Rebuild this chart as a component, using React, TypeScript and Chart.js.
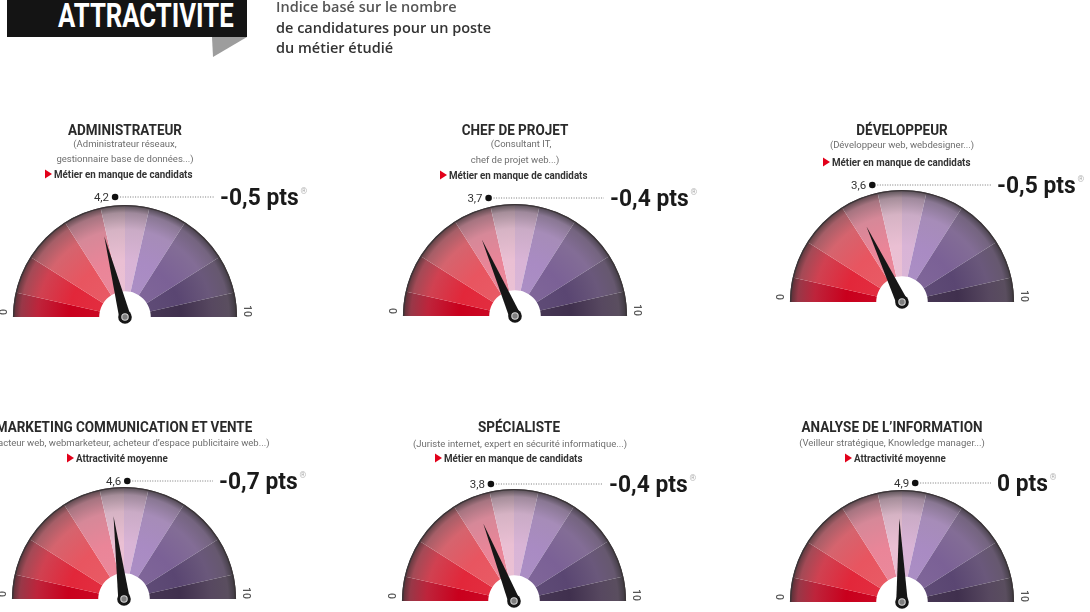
import React, { useEffect, useRef } from "react";
import { Chart, registerables } from "chart.js";

Chart.register(...registerables);

// ---------------- data ----------------
const HEADER_TITLE = "ATTRACTIVITE";
const HEADER_NOTE = ["Indice basé sur le nombre", "de candidatures pour un poste", "du métier étudié"];

const JOB_TITLES = [
  "ADMINISTRATEUR",
  "CHEF DE PROJET",
  "DÉVELOPPEUR",
  "MARKETING COMMUNICATION ET VENTE",
  "SPÉCIALISTE",
  "ANALYSE DE L’INFORMATION",
];
const JOB_EXAMPLES: string[][] = [
  ["(Administrateur réseaux,", "gestionnaire base de données...)"],
  ["(Consultant IT,", "chef de projet web...)"],
  ["(Développeur web, webdesigner...)"],
  ["(Rédacteur web, webmarketeur, acheteur d’espace publicitaire web...)"],
  ["(Juriste internet, expert en sécurité informatique...)"],
  ["(Veilleur stratégique,  Knowledge manager...)"],
];
const JOB_STATUS = [
  "Métier en manque de candidats",
  "Métier en manque de candidats",
  "Métier en manque de candidats",
  "Attractivité moyenne",
  "Métier en manque de candidats",
  "Attractivité moyenne",
];
const ATTRACTIVITY_INDEX = [4.2, 3.7, 3.6, 4.6, 3.8, 4.9];
const INDEX_LABELS = ["4,2", "3,7", "3,6", "4,6", "3,8", "4,9"];
const CHANGE_LABELS = ["-0,5 pts", "-0,4 pts", "-0,5 pts", "-0,7 pts", "-0,4 pts", "0 pts"];
const SCALE_MIN = 0;
const SCALE_MAX = 10;
const SCALE_LABELS = ["0", "10"];
const ZONE_SIZES = [0.7, 1.1, 1.4, 1.1, 0.7, 0.7, 1.1, 1.4, 1.1, 0.7];
const ZONE_LABELS = ["z1", "z2", "z3", "z4", "z5", "z6", "z7", "z8", "z9", "z10"];

// ---------------- styles ----------------
const ZONE_COLORS = [
  "#c9001d",
  "#e2273a",
  "#e85560",
  "#ea8598",
  "#eabfd3",
  "#d9b4d6",
  "#a98bc3",
  "#7b6196",
  "#5a4672",
  "#40304e",
];
const ROBOTO = "Roboto, 'Open Sans', sans-serif";

// ---------------- layout ----------------
const RADIUS = 112;
const PAD = { left: 4, right: 4, top: 4, bottom: 10 };
const LAYOUT = [
  { cx: 125, base: 317, titleY: 130, titleDx: 0, subY: [143, 158], subDx: [0, 0], bulletY: 174, bulletX: 45, valueY: 197 },
  { cx: 515, base: 316, titleY: 130, titleDx: 0, subY: [143, 159], subDx: [6, 0], bulletY: 175, bulletX: 440, valueY: 198 },
  { cx: 902, base: 302, titleY: 130, titleDx: 0, subY: [144], subDx: [0], bulletY: 162, bulletX: 823, valueY: 185 },
  { cx: 124, base: 599, titleY: 427, titleDx: 0, subY: [442], subDx: [0], bulletY: 458, bulletX: 67, valueY: 481 },
  { cx: 514, base: 601, titleY: 427, titleDx: 5, subY: [443], subDx: [6], bulletY: 458, bulletX: 435, valueY: 484 },
  { cx: 902, base: 602, titleY: 427, titleDx: -10, subY: [442], subDx: [-10], bulletY: 458, bulletX: 845, valueY: 483 },
];

function hexToRgb(h: string) {
  const n = parseInt(h.slice(1), 16);
  return [(n >> 16) & 255, (n >> 8) & 255, n & 255];
}
function mix(a: string, b: string, t: number) {
  const A = hexToRgb(a);
  const B = hexToRgb(b);
  const c = A.map((v, i) => Math.round(v + (B[i] - v) * t));
  return `rgb(${c[0]},${c[1]},${c[2]})`;
}

function zoneFill(ctx: any) {
  const chart = ctx.chart;
  const area = chart.chartArea;
  const base = ZONE_COLORS[ctx.dataIndex % ZONE_COLORS.length];
  if (!area) return base;
  const cx = (area.left + area.right) / 2;
  const cy = area.bottom;
  const r = Math.min(area.right - area.left, 2 * (area.bottom - area.top)) / 2;
  const g = chart.ctx.createRadialGradient(cx, cy, 0, cx, cy, r);
  g.addColorStop(0, mix(base, "#ffffff", 0.05));
  g.addColorStop(0.5, base);
  g.addColorStop(0.78, mix(base, "#9b8f96", 0.25));
  g.addColorStop(0.93, mix(base, "#6f666c", 0.55));
  g.addColorStop(1, mix(base, "#3e3a3c", 0.85));
  return g;
}

function Gauge({ index }: { index: number }) {
  const ref = useRef<HTMLCanvasElement>(null);
  const L = LAYOUT[index];
  useEffect(() => {
    const value = ATTRACTIVITY_INDEX[index];
    const needle = {
      id: "needle",
      afterDatasetsDraw(chart: any) {
        const arc: any = chart.getDatasetMeta(0).data[0];
        if (!arc) return;
        const { x, y, outerRadius } = arc;
        const ctx = chart.ctx;
        ctx.save();
        ctx.beginPath();
        ctx.arc(x, y, outerRadius - 0.6, Math.PI, 2 * Math.PI);
        ctx.strokeStyle = "#3b3538";
        ctx.lineWidth = 1.4;
        ctx.stroke();
        const frac = (value - SCALE_MIN) / (SCALE_MAX - SCALE_MIN);
        const a = Math.PI + frac * Math.PI;
        const len = outerRadius * 0.745;
        const tx = x + Math.cos(a) * len;
        const ty = y + Math.sin(a) * len;
        const px = -Math.sin(a);
        const py = Math.cos(a);
        const w = 5.8;
        ctx.beginPath();
        ctx.moveTo(tx, ty);
        ctx.lineTo(x + px * w, y + py * w);
        ctx.lineTo(x - px * w, y - py * w);
        ctx.closePath();
        ctx.fillStyle = "#161616";
        ctx.fill();
        ctx.beginPath();
        ctx.arc(x, y, 6.8, 0, 2 * Math.PI);
        ctx.fill();
        ctx.beginPath();
        ctx.arc(x, y, 3.2, 0, 2 * Math.PI);
        ctx.fillStyle = "#7e7e7e";
        ctx.fill();
        ctx.strokeStyle = "#d2d2d2";
        ctx.lineWidth = 1.1;
        ctx.stroke();
        ctx.restore();
      },
    };
    const chart = new Chart(ref.current as HTMLCanvasElement, {
      type: "doughnut",
      data: {
        labels: ZONE_LABELS,
        datasets: [{ data: ZONE_SIZES, backgroundColor: zoneFill as any, borderWidth: 0 }],
      },
      options: {
        responsive: false,
        animation: false,
        rotation: -90,
        circumference: 180,
        cutout: "23%",
        layout: { padding: PAD },
        events: [],
        plugins: { legend: { display: false }, tooltip: { enabled: false } },
      } as any,
      plugins: [needle],
    });
    return () => chart.destroy();
  }, [index]);
  const w = RADIUS * 2 + PAD.left + PAD.right;
  const h = RADIUS + PAD.top + PAD.bottom;
  return (
    <canvas
      ref={ref}
      width={w}
      height={h}
      style={{ position: "absolute", left: L.cx - RADIUS - PAD.left, top: L.base - RADIUS - PAD.top, width: w, height: h }}
    />
  );
}

function SText(props: {
  x: number; y: number; sx?: number; size: number; weight?: number; fill: string;
  anchor?: string; family?: string; baseline?: string; children: any;
}) {
  const { x, y, sx = 1, size, weight = 400, fill, anchor = "start", family = ROBOTO, baseline = "central", children } = props;
  return (
    <text transform={`translate(${x},${y}) scale(${sx},1)`} textAnchor={anchor} dominantBaseline={baseline}
      fontFamily={family} fontSize={size} fontWeight={weight} fill={fill}>{children}</text>
  );
}

function GaugeText({ index }: { index: number }) {
  const L = LAYOUT[index];
  const v = ATTRACTIVITY_INDEX[index];
  const dotX = L.cx + 33 * (v - 4.5);
  const ptsX = L.cx + 95;
  return (
    <g>
      <SText x={L.cx + L.titleDx} y={L.titleY} anchor="middle" size={15} sx={0.9} weight={700} fill="#2a2a2a">{JOB_TITLES[index]}</SText>
      {JOB_EXAMPLES[index].map((s, k) => (
        <SText key={k} x={L.cx + (L.subDx[k] || 0)} y={L.subY[k]} anchor="middle" size={9.5} sx={1} fill="#6e6e6e">{s}</SText>
      ))}
      <polygon points={`${L.bulletX},${L.bulletY - 4.5} ${L.bulletX + 7},${L.bulletY} ${L.bulletX},${L.bulletY + 4.5}`} fill="#e2001a" />
      <SText x={L.bulletX + 9} y={L.bulletY} size={10} sx={0.98} weight={700} fill="#333">{JOB_STATUS[index]}</SText>
      <SText x={dotX - 6} y={L.valueY} anchor="end" size={11.5} fill="#333">{INDEX_LABELS[index]}</SText>
      <circle cx={dotX} cy={L.valueY} r={3.3} fill="#111" />
      <line x1={dotX + 5} y1={L.valueY} x2={ptsX - 6} y2={L.valueY} stroke="#777" strokeWidth={1} strokeDasharray="1 1.5" />
      <SText x={ptsX} y={L.valueY} size={24} sx={0.95} weight={700} fill="#1a1a1a">
        {CHANGE_LABELS[index]}
        <tspan dx={2} dy={-6} fontSize={9} fontWeight={400} fill="#b5b5b5">®</tspan>
      </SText>
      <text transform={`translate(${L.cx - RADIUS - 11},${L.base - 5}) rotate(90)`} textAnchor="middle"
        dominantBaseline="central" fontFamily={ROBOTO} fontWeight={500} fontSize={10.5} fill="#555">{SCALE_LABELS[0]}</text>
      <text transform={`translate(${L.cx + RADIUS + 10},${L.base - 6}) rotate(90)`} textAnchor="middle"
        dominantBaseline="central" fontFamily={ROBOTO} fontWeight={500} fontSize={10.5} fill="#555">{SCALE_LABELS[1]}</text>
    </g>
  );
}

export default function App() {
  return (
    <div style={{ position: "fixed", left: 0, top: 0, width: 1090, height: 612, overflow: "hidden", background: "#ffffff" }}>
      {LAYOUT.map((_, i) => (
        <Gauge key={i} index={i} />
      ))}
      <svg width={1090} height={612} style={{ position: "absolute", left: 0, top: 0, pointerEvents: "none" }}>
        <rect x={7} y={-6} width={240} height={43} fill="#141414" />
        <polygon points="212,37 247,37 213,57" fill="#9d9d9d" />
        <SText x={58} y={27} baseline="alphabetic" size={33} sx={0.78} weight={700} fill="#ffffff">{HEADER_TITLE}</SText>
        {HEADER_NOTE.map((s, k) => (
          <text key={k} x={276} y={12 + k * 20.5} fontFamily="'Open Sans', sans-serif" fontWeight={600} fontSize={14.5} fill={k === 0 ? "#555" : "#333"}>{s}</text>
        ))}
        {LAYOUT.map((_, i) => (
          <GaugeText key={i} index={i} />
        ))}
      </svg>
    </div>
  );
}
